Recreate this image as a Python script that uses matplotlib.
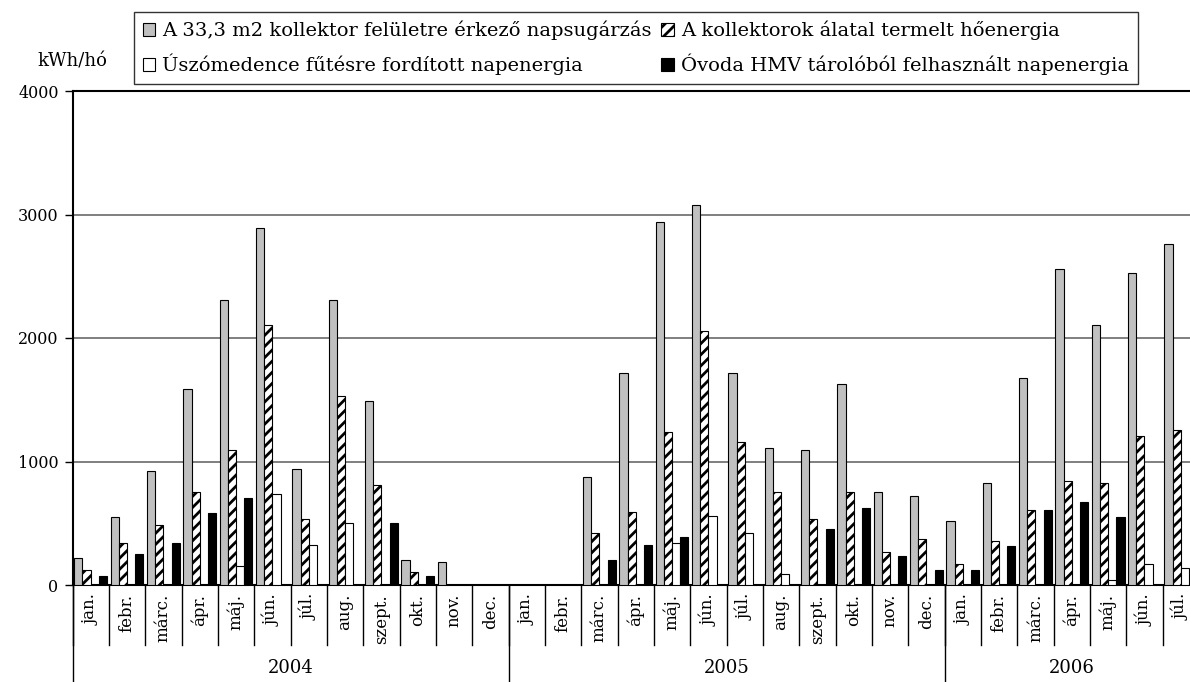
import numpy as np
import matplotlib
matplotlib.use("Agg")
import matplotlib.pyplot as plt
import matplotlib.transforms as mtransforms

plt.rcParams["font.family"] = ["DejaVu Serif"]
plt.rcParams["hatch.linewidth"] = 2.0

# data (kWh/month), 2004 jan .. 2006 jul
months = ["jan.", "febr.", "márc.", "ápr.", "máj.", "jún.", "júl.",
          "aug.", "szept.", "okt.", "nov.", "dec."]
years = ["2004", "2005", "2006"]
month_labels = months + months + months[:7]

radiation = [217, 547, 924, 1583, 2309, 2889, 940, 2309, 1491, 200, 184, 0,
             0, 0, 875, 1713, 2938, 3079, 1713, 1111, 1095, 1631, 751, 721,
             515, 829, 1680, 2558, 2103, 2526, 2764]
collector_heat = [119, 339, 485, 751, 1095, 2103, 531, 1534, 810, 103, 0, 0,
                  0, 0, 420, 591, 1241, 2054, 1160, 751, 531, 751, 266, 371,
                  168, 355, 607, 843, 829, 1209, 1255]
pool_heat = [0, 0, 0, 0, 152, 734, 325, 501, 0, 0, 0, 0,
             0, 0, 0, 0, 339, 561, 420, 92, 0, 0, 0, 0,
             0, 0, 0, 0, 43, 168, 136]
kindergarten_hmv = [76, 252, 341, 580, 707, 0, 0, 0, 501, 76, 0, 0,
                    0, 0, 203, 325, 390, 0, 0, 0, 455, 626, 236, 122,
                    122, 314, 607, 675, 547, 0, 0]

labels = ["A 33,3 m2 kollektor felületre érkező napsugárzás",
          "A kollektorok álatal termelt hőenergia",
          "Úszómedence fűtésre fordított napenergia",
          "Óvoda HMV tárolóból felhasznált napenergia"]

fig = plt.figure(figsize=(11.9, 6.82), dpi=100)
ax = fig.add_axes([72.5 / 1190, 97 / 682, (1199 - 72.5) / 1190, 494 / 682])

x = np.arange(len(month_labels))
w = 0.225
b1 = ax.bar(x - 1.5 * w, radiation, w, color="#c0c0c0", edgecolor="black", linewidth=0.8, zorder=3)
b2 = ax.bar(x - 0.5 * w, collector_heat, w, color="white", edgecolor="black", hatch="///", linewidth=0.8, zorder=3)
b3 = ax.bar(x + 0.5 * w, pool_heat, w, color="white", edgecolor="black", linewidth=0.8, zorder=3)
b4 = ax.bar(x + 1.5 * w, kindergarten_hmv, w, color="black", edgecolor="black", linewidth=0.8, zorder=3)

ax.set_xlim(-0.5, len(month_labels) - 0.5)
ax.set_ylim(0, 4000)
ax.set_yticks([0, 1000, 2000, 3000, 4000])
ax.tick_params(axis="y", labelsize=11.5, direction="out", length=6, width=1, pad=4)
ax.set_xticks([])
ax.yaxis.grid(True, color="#6a6a6a", linewidth=1.2, zorder=0)
ax.set_axisbelow(True)
ax.spines["right"].set_visible(False)
ax.spines["left"].set_linewidth(1.5)
ax.spines["top"].set_linewidth(1.5)
ax.spines["bottom"].set_linewidth(1.5)

# two-level category axis
trans = mtransforms.blended_transform_factory(ax.transData, ax.transAxes)
for i in range(len(month_labels) + 1):
    ax.plot([i - 0.5, i - 0.5], [0, -0.1215], transform=trans, color="black",
            linewidth=1, clip_on=False)
for i, m in enumerate(month_labels):
    ax.text(i, -0.018, m, transform=trans, rotation=90, ha="center", va="top",
            fontsize=12)
year_edges = [-0.5, 11.5, 23.5]
for e in year_edges:
    ax.plot([e, e], [0, -0.2], transform=trans, color="black", linewidth=1, clip_on=False)
year_centers = [5.5, 17.5, 27.0]
for c, yr in zip(year_centers, years):
    ax.text(c, -0.168, yr, transform=trans, ha="center", va="center", fontsize=13)

fig.text(72 / 1190, 1 - 62 / 682, "kWh/hó", ha="center", va="center", fontsize=13)

leg = fig.legend([b1, b3, b2, b4], [labels[0], labels[2], labels[1], labels[3]],
                 ncol=2, loc="upper left", bbox_to_anchor=(134 / 1190, 1 - 12 / 682),
                 fontsize=14, frameon=True, fancybox=False, edgecolor="black",
                 handlelength=0.65, handleheight=0.65, handletextpad=0.35,
                 columnspacing=0.5, borderpad=0.45, labelspacing=0.7,
                 borderaxespad=0)
leg.get_frame().set_linewidth(1)

fig.savefig("out.png", dpi=100)
